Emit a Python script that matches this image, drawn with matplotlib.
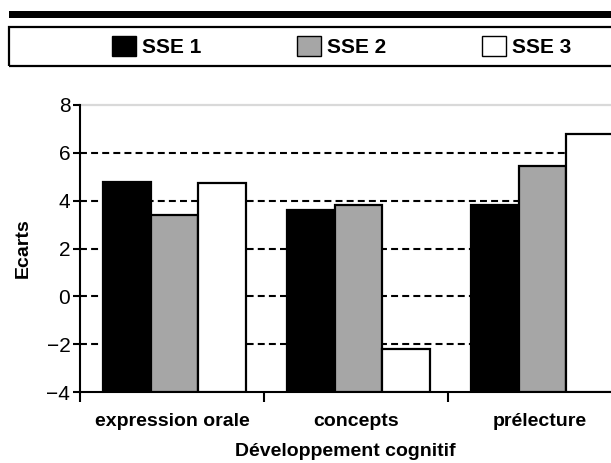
import numpy as np
import matplotlib
matplotlib.use("Agg")
import matplotlib.pyplot as plt
from matplotlib.patches import Patch, Rectangle

categories = ["expression orale", "concepts", "prélecture"]
series_names = ["SSE 1", "SSE 2", "SSE 3"]
sse1 = [4.8, 3.6, 3.8]
sse2 = [3.4, 3.8, 5.45]
sse3 = [4.75, -2.2, 6.8]
y_ticks = [-4, -2, 0, 2, 4, 6, 8]

colors = ["#000000", "#a6a6a6", "#ffffff"]

plt.rcParams["font.family"] = ["Liberation Sans", "DejaVu Sans"]
plt.rcParams["lines.scale_dashes"] = False

W, H = 611, 463
fig = plt.figure(figsize=(W / 100, H / 100), dpi=100)

# axes box in pixels (right side runs past the picture edge, as in the source)
ax_l, ax_t, ax_b, ax_w = 80, 105, 392, 552
ax = fig.add_axes([ax_l / W, 1 - ax_b / H, ax_w / W, (ax_b - ax_t) / H])

ymin, ymax = -4, 8
x = np.arange(len(categories))
bw = 0.26
for i, (vals, c) in enumerate(zip([sse1, sse2, sse3], colors)):
    vals = np.asarray(vals)
    ax.bar(x + (i - 1) * bw + 0.014, vals - ymin, bottom=ymin, width=bw,
           color=c, edgecolor="black", linewidth=1.6, zorder=3)

for yv in y_ticks[1:-1]:
    ax.axhline(yv, color="black", lw=1.5, linestyle=(0, (5, 3)), zorder=1)
ax.axhline(ymax, color="#d9d9d9", lw=1.6, zorder=1, clip_on=False)

ax.set_ylim(ymin, ymax)
ax.set_xlim(-0.5, len(categories) - 0.5)
ax.set_yticks(y_ticks)
ax.set_yticklabels([str(v).replace("-", "\u2212") for v in y_ticks], fontsize=15)
ax.tick_params(axis="y", direction="out", length=5, width=1.5, pad=2)

ax.set_xticks(x)
ax.set_xticklabels(categories, fontsize=14, fontweight="bold")
ax.set_xticks(np.arange(len(categories) + 1) - 0.5, minor=True)
ax.tick_params(axis="x", which="major", length=0, pad=15)
ax.tick_params(axis="x", which="minor", direction="out", length=7.5, width=1.5)

for s in ["top", "right"]:
    ax.spines[s].set_visible(False)
for s in ["left", "bottom"]:
    ax.spines[s].set_linewidth(1.5)

ax.set_ylabel("Ecarts", fontsize=14, fontweight="bold")
ax.yaxis.set_label_coords((32 - ax_l) / ax_w, 0.5)
ax.set_xlabel("Développement cognitif", fontsize=14, fontweight="bold")
ax.xaxis.set_label_coords((345 - ax_l) / ax_w, (ax_b - 443) / (ax_b - ax_t))

# heavy rule and legend frame along the top
fig.add_artist(Rectangle((9 / W, 1 - 18 / H), 1, 7 / H, transform=fig.transFigure,
                         facecolor="black", edgecolor="none"))
fig.add_artist(Rectangle((9 / W, 1 - 66 / H), 1, 39 / H, transform=fig.transFigure,
                         facecolor="none", edgecolor="black", lw=1.6))

handles = [Patch(facecolor=c, edgecolor="black", lw=1.0) for c in colors]
fig.legend(handles, series_names, loc="center left", ncol=3,
           bbox_to_anchor=(112 / W, 1 - 46.5 / H), frameon=False,
           prop={"size": 15, "weight": "bold"}, borderpad=0, borderaxespad=0,
           handlelength=1.15, handleheight=1.15, handletextpad=0.29,
           columnspacing=4.6)

fig.savefig("out.png", dpi=100)
